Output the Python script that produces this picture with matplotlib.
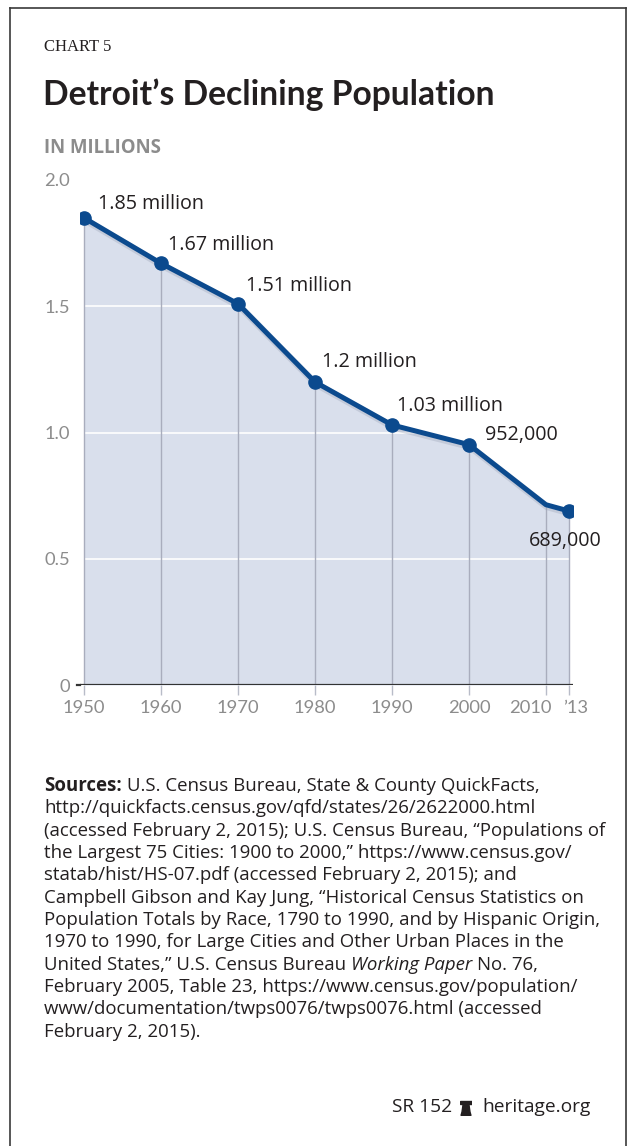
import matplotlib.pyplot as plt
import matplotlib.transforms as mtransforms
from matplotlib.lines import Line2D
from matplotlib.patches import Polygon

years = [1950, 1960, 1970, 1980, 1990, 2000, 2010, 2013]
pop = [1.85, 1.67, 1.51, 1.20, 1.03, 0.952, 0.714, 0.689]
labels = ["1.85 million", "1.67 million", "1.51 million", "1.2 million",
          "1.03 million", "952,000", None, "689,000"]
xtick_labels = ["1950", "1960", "1970", "1980", "1990", "2000", "2010", "\u201913"]
yticks = [0, 0.5, 1.0, 1.5, 2.0]
ytick_labels = ["0", "0.5", "1.0", "1.5", "2.0"]

W, H = 633, 1146
LINE = "#0b4a8e"
FILL = "#d9dfec"
GRAY = "#8c8c8c"
TXT = "#231f20"
FONT = "Lato"
BODY = "Open Sans"

fig = plt.figure(figsize=(W / 100, H / 100), dpi=100)
fig.patch.set_facecolor("white")

def fx(px):
    return px / W

def fy(py):
    return 1 - py / H

# axes: baseline from x=80 to 573, y=0 at 685, y=2.0 at 180
ppy = (569 - 84) / 63
x0 = 1950 - 4 / ppy
x1 = 2013 + 4 / ppy
ax = fig.add_axes([fx(80), fy(685), fx(573 - 80), (685 - 180) / H])
ax.set_xlim(x0, x1)
ax.set_ylim(0, 2.0)
for s in ax.spines.values():
    s.set_visible(False)

ax.fill_between(years, pop, 0, color=FILL, lw=0, zorder=1)
ax.hlines([0.5, 1.0, 1.5], years[0], years[-1], color="white", lw=1.2, zorder=2)
ax.vlines(years, 0, pop, color="#a9adbd", lw=1.0, zorder=2)
ax.axhline(0, color="#333333", lw=1.6, zorder=4)
shadow = ax.transData + mtransforms.ScaledTranslation(1 / 100, -2 / 100, fig.dpi_scale_trans)
ax.plot(years, pop, color="#9aa3b8", lw=5, alpha=0.35, zorder=3, transform=shadow)
ax.plot(years, pop, color=LINE, lw=3.6, marker="o", ms=9.5,
        markevery=[0, 1, 2, 3, 4, 5, 7], zorder=5, solid_joinstyle="round")

ax.set_xticks(years)
ax.set_xticklabels(xtick_labels, fontsize=13.2, color=GRAY, family=FONT)
ax.tick_params(axis="x", length=7, width=1, color="#b8bcc8", pad=4)
# nudge the crowded last two labels apart
for lab, dx in zip(ax.get_xticklabels()[-2:], (-16, 7)):
    lab.set_transform(lab.get_transform() + mtransforms.ScaledTranslation(dx / 100, 0, fig.dpi_scale_trans))
ax.set_yticks(yticks)
ax.set_yticklabels(ytick_labels, fontsize=13.2, color=GRAY, family=FONT)
ax.tick_params(axis="y", length=0, pad=7)
ax.plot([x0 - 3 / ppy, x0], [0, 0], color="#333333", lw=1.6, clip_on=False)

offsets = [(14, 14), (7, 18), (8, 18), (7, 20), (5, 19), (16, 10), None, (33, -30)]
for x, y, lab, off in zip(years, pop, labels, offsets):
    if lab is None:
        continue
    ha = "right" if off[1] < 0 else "left"
    ax.annotate(lab, (x, y), xytext=(off[0] * 0.72, off[1] * 0.72),
                textcoords="offset points", ha=ha, va="center",
                fontsize=14.2, color=TXT, family=BODY, zorder=6)

# header
fig.text(fx(44), fy(47), "CHART 5", family="Liberation Serif", fontsize=12,
         color=TXT, va="center")
fig.text(fx(43), fy(95), "Detroit\u2019s Declining Population", family=FONT,
         fontweight="bold", fontsize=24.2, color=TXT, va="center")
fig.text(fx(44), fy(148), "IN MILLIONS", family=BODY, fontweight="bold",
         fontsize=13.4, color=GRAY, va="center")

# sources paragraph with mixed styles
src = [
    [("Sources:", "bold"), ("U.S. Census Bureau, State & County QuickFacts,", "normal")],
    [("http://quickfacts.census.gov/qfd/states/26/2622000.html", "normal")],
    [("(accessed February 2, 2015); U.S. Census Bureau, \u201cPopulations of", "normal")],
    [("the Largest 75 Cities: 1900 to 2000,\u201d https://www.census.gov/", "normal")],
    [("statab/hist/HS-07.pdf (accessed February 2, 2015); and", "normal")],
    [("Campbell Gibson and Kay Jung, \u201cHistorical Census Statistics on", "normal")],
    [("Population Totals by Race, 1790 to 1990, and by Hispanic Origin,", "normal")],
    [("1970 to 1990, for Large Cities and Other Urban Places in the", "normal")],
    [("United States,\u201d U.S. Census Bureau", "normal"), ("Working Paper", "italic"),
     ("No. 76,", "normal")],
    [("February 2005, Table 23, https://www.census.gov/population/", "normal")],
    [("www/documentation/twps0076/twps0076.html (accessed", "normal")],
    [("February 2, 2015).", "normal")],
]
r = fig.canvas.get_renderer()
SRC_FS = 13.4

def twidth(s, **kw):
    t = fig.text(0, 0, s, fontsize=SRC_FS, family=BODY, **kw)
    w = t.get_window_extent(renderer=r).width
    t.remove()
    return w

space = twidth("x x") - twidth("xx")
for i, parts in enumerate(src):
    y = fy(786 + i * 22.35)
    xp = 44
    for s, style in parts:
        kw = {"fontweight": "bold"} if style == "bold" else {}
        if style == "italic":
            kw = {"fontstyle": "italic"}
        t = fig.text(fx(xp), y, s, fontsize=SRC_FS, family=BODY, color=TXT,
                     va="center", **kw)
        xp += t.get_window_extent(renderer=r).width + space

# footer
fig.text(fx(452), fy(1107), "SR 152", family=BODY, fontsize=13.8, color=TXT,
         va="center", ha="right")
fig.text(fx(482), fy(1107), "heritage.org", family=BODY, fontsize=13.8, color=TXT,
         va="center", ha="left")
bell = fig.add_axes([fx(460), fy(1116), fx(12), 17 / H])
bell.set_xlim(0, 12)
bell.set_ylim(0, 17)
bell.axis("off")
bell.add_patch(Polygon([(0, 12.5), (12, 12.5), (12, 15), (0, 15)], color=TXT))
bell.add_patch(Polygon([(1, 0.5), (11, 0.5), (10, 4), (9, 11), (3, 11), (2, 4)],
                       color=TXT))

# frame (open at the bottom)
for xs, ys in [([10, 10], [1146, 8]), ([10, 626], [8, 8]), ([626, 626], [8, 1146])]:
    fig.add_artist(Line2D([fx(v) for v in xs], [fy(v) for v in ys],
                          color="#3a3a3a", lw=1.2))

fig.savefig("out.png", dpi=100)
